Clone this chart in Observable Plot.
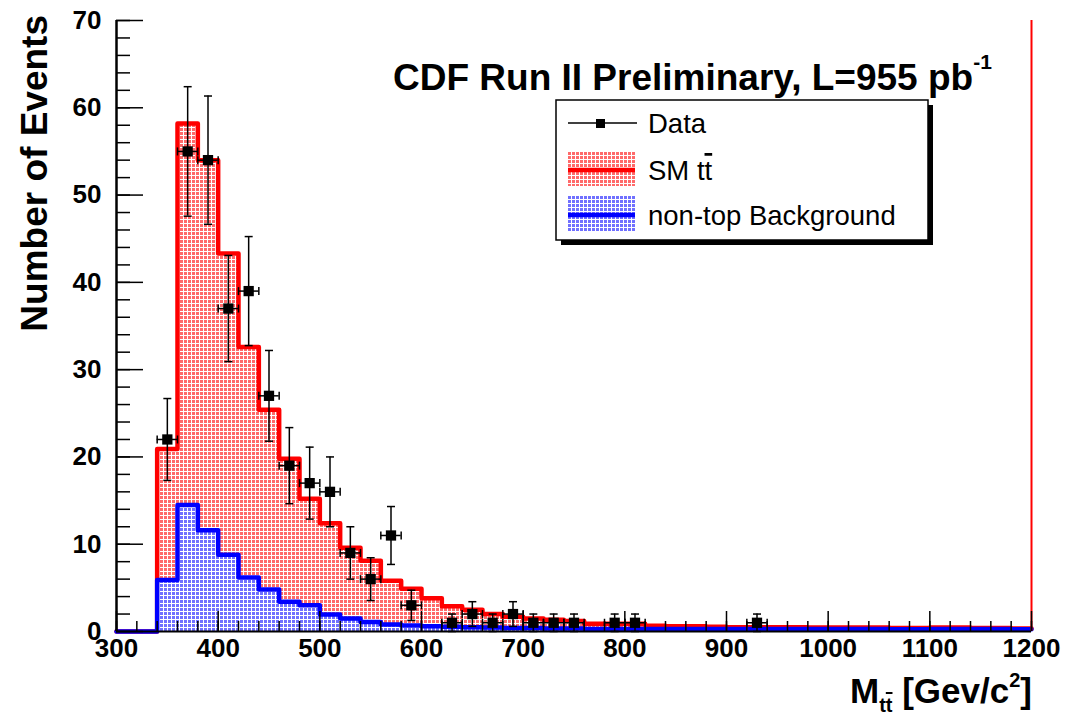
<!DOCTYPE html>
<html><head><meta charset="utf-8">
<script src="https://cdn.jsdelivr.net/npm/d3@7"></script>
<script src="https://cdn.jsdelivr.net/npm/@observablehq/plot@0.6"></script>
<style>html,body{margin:0;padding:0;background:#fff;} #chart{width:1066px;height:714px;}</style>
</head><body><div id="chart"></div>
<script>
// ---- data ----
const binLow = [300,320,340,360,380,400,420,440,460,480,500,520,540,560,580,600,620,640,660,680,700,720,740,760,780,800,820,840,860,880,900,920,940,960,980,1000,1020,1040,1060,1080,1100,1120,1140,1160,1180];
// SM ttbar (stacked on top of non-top background): top of the red histogram
const smTtbarStack = [0,0,20.9,58.2,54.0,43.3,32.6,25.4,19.8,15.2,12.4,9.6,8.1,5.8,4.9,3.8,2.9,2.5,2.0,1.7,1.5,1.35,1.2,0.9,0.9,0.9,0.65,0.6,0.6,0.55,0.5,0.5,0.5,0.5,0.45,0.45,0.45,0.45,0.4,0.4,0.45,0.45,0.4,0.4,0.35];
// non-top background: top of the blue histogram
const nonTopBkg = [0,0,5.9,14.5,11.6,8.8,6.2,4.8,3.4,3.0,1.95,1.5,1.1,0.8,0.7,0.6,0.55,0.5,0.45,0.4,0.4,0.35,0.35,0.3,0.3,0.3,0.3,0.3,0.3,0.3,0.3,0.3,0.3,0.3,0.3,0.3,0.3,0.3,0.25,0.25,0.3,0.3,0.3,0.3,0.25];
// data points (bin centre, events)
const dataMass  = [350,370,390,410,430,450,470,490,510,530,550,570,590,630,650,670,690,710,730,750,790,810,930];
const dataCount = [22,55,54,37,39,27,19,17,16,9,6,11,3,1,2,1,2,1,1,1,1,1,1];
const xTickLabels = [300,400,500,600,700,800,900,1000,1100,1200];
const yTickLabels = [0,10,20,30,40,50,60,70];
const binWidth = 20;

const FONT = "'Liberation Sans', Arial, Helvetica, sans-serif";
const RED = "#ff0000", BLUE = "#0000ff";

const bins = binLow.map((lo, i) => ({lo, hi: lo + binWidth, tot: smTtbarStack[i], bkg: nonTopBkg[i]}));
const steps = key => [...bins.map(b => ({x: b.lo, y: b[key]})), {x: bins[bins.length-1].hi, y: bins[bins.length-1][key]}];
const pts = dataMass.map((m, i) => ({m, n: dataCount[i], e: Math.sqrt(dataCount[i])}));

const hCap = {draw(ctx, size) { const r = Math.sqrt(size / Math.PI); ctx.moveTo(-r, 0); ctx.lineTo(r, 0); }};
const vCap = {draw(ctx, size) { const r = Math.sqrt(size / Math.PI); ctx.moveTo(0, -r); ctx.lineTo(0, r); }};

const xMinor = d3.range(300, 1201, 20);
const yMinor = d3.range(0, 71, 2);

const svg = Plot.plot({
  width: 1066, height: 714,
  marginLeft: 116, marginRight: 35, marginTop: 20, marginBottom: 83,
  style: {fontFamily: FONT, background: "white", overflow: "visible"},
  x: {domain: [300, 1200]},
  y: {domain: [0, 70]},
  marks: [
    Plot.rect(bins, {x1: "lo", x2: "hi", y1: 0, y2: "tot", fill: "url(#patRed)", shapeRendering: "crispEdges"}),
    Plot.line(steps("tot"), {x: "x", y: "y", curve: "step-after", stroke: RED, strokeWidth: 4.5}),
    Plot.rect(bins, {x1: "lo", x2: "hi", y1: 0, y2: "bkg", fill: "url(#patBlue)", shapeRendering: "crispEdges"}),
    Plot.line(steps("bkg"), {x: "x", y: "y", curve: "step-after", stroke: BLUE, strokeWidth: 4.5}),
    Plot.ruleX([1200], {stroke: RED, strokeWidth: 2}),
    Plot.ruleY([0], {stroke: "black", strokeWidth: 2}),
    Plot.ruleX([300], {stroke: "black", strokeWidth: 2.5}),
    // inward ticks
    Plot.axisX(xMinor, {tickSize: -10, tickFormat: () => "", strokeWidth: 1.5, label: null}),
    Plot.axisX(xTickLabels, {tickSize: -20, tickFormat: () => "", strokeWidth: 1.5, label: null}),
    Plot.axisY(yMinor, {tickSize: -14, tickFormat: () => "", strokeWidth: 1.5, label: null}),
    Plot.axisY(yTickLabels, {tickSize: -27, tickFormat: () => "", strokeWidth: 1.5, label: null}),
    // tick labels
    Plot.axisX(xTickLabels, {tickSize: 0, tickPadding: 7, tickFormat: d => String(d), fontSize: 26, fontWeight: "bold", label: null}),
    Plot.axisY(yTickLabels, {tickSize: 0, tickPadding: 15, tickFormat: d => String(d), fontSize: 26, fontWeight: "bold", label: null}),
    // data with error bars
    Plot.ruleX(pts, {x: "m", y1: d => d.n - d.e, y2: d => d.n + d.e, stroke: "black", strokeWidth: 1.5}),
    Plot.ruleY(pts, {y: "n", x1: d => d.m - binWidth / 2, x2: d => d.m + binWidth / 2, stroke: "black", strokeWidth: 1.5}),
    Plot.dot(pts, {x: "m", y: d => d.n + d.e, symbol: hCap, r: 4, fill: "none", stroke: "black", strokeWidth: 1.5}),
    Plot.dot(pts, {x: "m", y: d => d.n - d.e, symbol: hCap, r: 4, fill: "none", stroke: "black", strokeWidth: 1.5}),
    Plot.dot(pts, {x: d => d.m - binWidth / 2, y: "n", symbol: vCap, r: 4, fill: "none", stroke: "black", strokeWidth: 1.5}),
    Plot.dot(pts, {x: d => d.m + binWidth / 2, y: "n", symbol: vCap, r: 4, fill: "none", stroke: "black", strokeWidth: 1.5}),
    Plot.dot(pts, {x: "m", y: "n", symbol: "square", r: 5.8, fill: "black", stroke: "none"})
  ]
});

// patterns
const root = d3.select(svg);
const defs = root.insert("defs", ":first-child");
function pattern(id, color) {
  const p = defs.append("pattern").attr("id", id).attr("patternUnits", "userSpaceOnUse").attr("width", 4).attr("height", 4);
  p.append("rect").attr("width", 4).attr("height", 4).attr("fill", "#ffffff");
  p.append("rect").attr("width", 3).attr("height", 3).attr("fill", color);
}
pattern("patRed", "#ff6a6a");
pattern("patBlue", "#7070ff");

// title
const title = root.append("text").attr("x", 393).attr("y", 90).attr("text-anchor", "start").attr("font-family", FONT)
  .attr("font-size", 37).attr("font-weight", "bold").attr("fill", "black");
title.append("tspan").text("CDF Run II Preliminary, L=955 pb");
title.append("tspan").attr("font-size", 21).attr("dy", -21).text("-1");

// y label
root.append("text").attr("transform", "translate(47,15) rotate(-90)").attr("text-anchor", "end")
  .attr("font-family", FONT).attr("font-size", 37).attr("font-weight", "bold").text("Number of Events");

// x label
const xl = root.append("text").attr("x", 1032).attr("y", 703).attr("text-anchor", "end")
  .attr("font-family", FONT).attr("font-size", 35).attr("font-weight", "bold");
xl.append("tspan").text("M");
xl.append("tspan").attr("font-size", 20).attr("dy", 9).text("t");
xl.append("tspan").attr("font-size", 20).style("text-decoration", "overline").text("t");
xl.append("tspan").attr("dy", -9).text(" [Gev/c");
xl.append("tspan").attr("font-size", 20).attr("dy", -16).text("2");
xl.append("tspan").attr("dy", 16).text("]");

// legend
const lg = root.append("g").attr("font-family", FONT).attr("text-anchor", "start");
lg.append("rect").attr("x", 561).attr("y", 105).attr("width", 372).attr("height", 140).attr("fill", "black");
lg.append("rect").attr("x", 556).attr("y", 100).attr("width", 372).attr("height", 140).attr("fill", "white").attr("stroke", "black").attr("stroke-width", 1.5);
// Data
lg.append("line").attr("x1", 568).attr("x2", 637).attr("y1", 123).attr("y2", 123).attr("stroke", "black").attr("stroke-width", 1.5);
lg.append("rect").attr("x", 596).attr("y", 119).attr("width", 9).attr("height", 9).attr("fill", "black");
lg.append("text").attr("x", 648).attr("y", 133).attr("font-size", 27.5).text("Data");
// SM tt
lg.append("rect").attr("x", 568).attr("y", 152).attr("width", 67).attr("height", 34).attr("fill", "url(#patRed)");
lg.append("line").attr("x1", 568).attr("x2", 635).attr("y1", 170).attr("y2", 170).attr("stroke", RED).attr("stroke-width", 4.5);
const smt = lg.append("text").attr("x", 648).attr("y", 180).attr("font-size", 27.5);
smt.append("tspan").text("SM t");
smt.append("tspan").style("text-decoration", "overline").text("t");
// background
lg.append("rect").attr("x", 568).attr("y", 196).attr("width", 67).attr("height", 36).attr("fill", "url(#patBlue)");
lg.append("line").attr("x1", 568).attr("x2", 635).attr("y1", 215).attr("y2", 215).attr("stroke", BLUE).attr("stroke-width", 4.5);
lg.append("text").attr("x", 648).attr("y", 225).attr("font-size", 27.5).text("non-top Background");

document.getElementById("chart").appendChild(svg);
</script>
</body></html>
